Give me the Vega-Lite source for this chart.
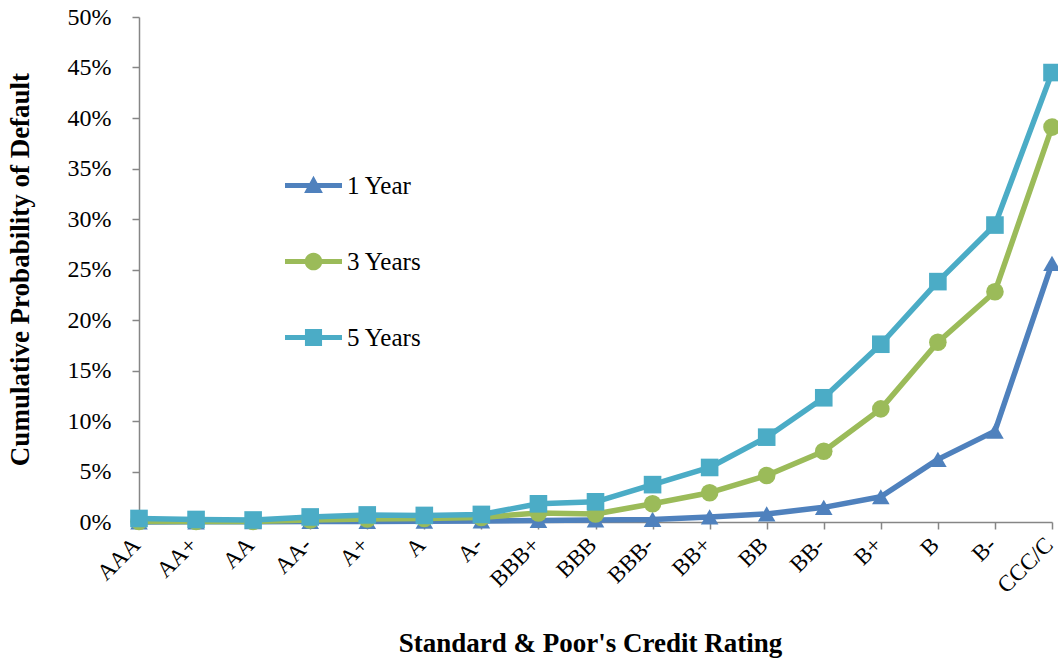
{
  "$schema": "https://vega.github.io/schema/vega-lite/v6.json",
  "autosize": {"type": "none"},
  "width": 913,
  "height": 505,
  "padding": {"left": 139, "top": 17, "right": 6, "bottom": 136},
  "background": "white",
  "config": {
    "view": {"stroke": null},
    "font": "Liberation Serif",
    "axis": {
      "grid": false,
      "domainColor": "#868686",
      "domainWidth": 1.5,
      "tickColor": "#868686",
      "tickWidth": 1.5,
      "tickSize": 7,
      "labelColor": "black",
      "labelFont": "Liberation Serif",
      "titleColor": "black",
      "titleFont": "Liberation Serif",
      "titleFontWeight": "bold",
      "titleFontSize": 27
    },
    "legend": {
      "title": null,
      "orient": "none",
      "legendX": 146,
      "legendY": 140,
      "padding": 0,
      "symbolSize": 3249,
      "symbolOpacity": 1,
      "symbolStrokeWidth": 0,
      "rowPadding": 34,
      "labelOffset": 5,
      "labelFont": "Liberation Serif",
      "labelFontSize": 25,
      "labelColor": "black",
      "labelLimit": 300
    }
  },
  "data": {
    "values": [
      {"rating": "AAA", "idx": 1, "series": "1 Year", "value": 0.0},
      {"rating": "AA+", "idx": 2, "series": "1 Year", "value": 0.0002},
      {"rating": "AA", "idx": 3, "series": "1 Year", "value": 0.0003},
      {"rating": "AA-", "idx": 4, "series": "1 Year", "value": 0.0005},
      {"rating": "A+", "idx": 5, "series": "1 Year", "value": 0.0006},
      {"rating": "A", "idx": 6, "series": "1 Year", "value": 0.0008},
      {"rating": "A-", "idx": 7, "series": "1 Year", "value": 0.001},
      {"rating": "BBB+", "idx": 8, "series": "1 Year", "value": 0.0015},
      {"rating": "BBB", "idx": 9, "series": "1 Year", "value": 0.002},
      {"rating": "BBB-", "idx": 10, "series": "1 Year", "value": 0.0025},
      {"rating": "BB+", "idx": 11, "series": "1 Year", "value": 0.005},
      {"rating": "BB", "idx": 12, "series": "1 Year", "value": 0.008},
      {"rating": "BB-", "idx": 13, "series": "1 Year", "value": 0.0145},
      {"rating": "B+", "idx": 14, "series": "1 Year", "value": 0.025},
      {"rating": "B", "idx": 15, "series": "1 Year", "value": 0.062},
      {"rating": "B-", "idx": 16, "series": "1 Year", "value": 0.09},
      {"rating": "CCC/C", "idx": 17, "series": "1 Year", "value": 0.256},
      {"rating": "AAA", "idx": 1, "series": "3 Years", "value": 0.0005},
      {"rating": "AA+", "idx": 2, "series": "3 Years", "value": 0.0005},
      {"rating": "AA", "idx": 3, "series": "3 Years", "value": 0.0005},
      {"rating": "AA-", "idx": 4, "series": "3 Years", "value": 0.002},
      {"rating": "A+", "idx": 5, "series": "3 Years", "value": 0.003},
      {"rating": "A", "idx": 6, "series": "3 Years", "value": 0.0035},
      {"rating": "A-", "idx": 7, "series": "3 Years", "value": 0.0045},
      {"rating": "BBB+", "idx": 8, "series": "3 Years", "value": 0.009},
      {"rating": "BBB", "idx": 9, "series": "3 Years", "value": 0.008},
      {"rating": "BBB-", "idx": 10, "series": "3 Years", "value": 0.018},
      {"rating": "BB+", "idx": 11, "series": "3 Years", "value": 0.029},
      {"rating": "BB", "idx": 12, "series": "3 Years", "value": 0.046},
      {"rating": "BB-", "idx": 13, "series": "3 Years", "value": 0.07},
      {"rating": "B+", "idx": 14, "series": "3 Years", "value": 0.112},
      {"rating": "B", "idx": 15, "series": "3 Years", "value": 0.178},
      {"rating": "B-", "idx": 16, "series": "3 Years", "value": 0.228},
      {"rating": "CCC/C", "idx": 17, "series": "3 Years", "value": 0.391},
      {"rating": "AAA", "idx": 1, "series": "5 Years", "value": 0.0035},
      {"rating": "AA+", "idx": 2, "series": "5 Years", "value": 0.0025},
      {"rating": "AA", "idx": 3, "series": "5 Years", "value": 0.002},
      {"rating": "AA-", "idx": 4, "series": "5 Years", "value": 0.005},
      {"rating": "A+", "idx": 5, "series": "5 Years", "value": 0.007},
      {"rating": "A", "idx": 6, "series": "5 Years", "value": 0.0065},
      {"rating": "A-", "idx": 7, "series": "5 Years", "value": 0.0075},
      {"rating": "BBB+", "idx": 8, "series": "5 Years", "value": 0.018},
      {"rating": "BBB", "idx": 9, "series": "5 Years", "value": 0.02},
      {"rating": "BBB-", "idx": 10, "series": "5 Years", "value": 0.037},
      {"rating": "BB+", "idx": 11, "series": "5 Years", "value": 0.054},
      {"rating": "BB", "idx": 12, "series": "5 Years", "value": 0.084},
      {"rating": "BB-", "idx": 13, "series": "5 Years", "value": 0.123},
      {"rating": "B+", "idx": 14, "series": "5 Years", "value": 0.176},
      {"rating": "B", "idx": 15, "series": "5 Years", "value": 0.238},
      {"rating": "B-", "idx": 16, "series": "5 Years", "value": 0.294},
      {"rating": "CCC/C", "idx": 17, "series": "5 Years", "value": 0.445}
    ]
  },
  "encoding": {
    "x": {
      "field": "rating",
      "type": "ordinal",
      "sort": ["AAA", "AA+", "AA", "AA-", "A+", "A", "A-", "BBB+", "BBB", "BBB-", "BB+", "BB", "BB-", "B+", "B", "B-", "CCC/C"],
      "scale": {"type": "point", "padding": 0},
      "axis": {
        "title": "Standard & Poor's Credit Rating",
        "labelAngle": -45,
        "labelAlign": "right",
        "labelBaseline": "middle",
        "labelFontSize": 23,
        "labelPadding": 12,
        "labelOffset": -3,
        "titleX": 451,
        "titleY": 121,
        "titleBaseline": "middle",
        "titleAlign": "center"
      }
    },
    "y": {
      "field": "value",
      "type": "quantitative",
      "scale": {"domain": [0, 0.5], "nice": false},
      "axis": {
        "title": "Cumulative Probability of Default",
        "values": [0, 0.05, 0.1, 0.15, 0.2, 0.25, 0.3, 0.35, 0.4, 0.45, 0.5],
        "format": ".0%",
        "labelFontSize": 24,
        "labelPadding": 21,
        "titleX": -119,
        "titleY": 252,
        "titleAngle": -90,
        "titleBaseline": "middle",
        "titleAlign": "center"
      }
    }
  },
  "layer": [
    {
      "mark": {"type": "line", "strokeWidth": 5.5, "strokeCap": "round", "strokeJoin": "round"},
      "encoding": {
        "order": {"field": "idx", "type": "quantitative"},
        "color": {
          "field": "series",
          "type": "nominal",
          "scale": {"domain": ["1 Year", "3 Years", "5 Years"], "range": ["#4F81BD", "#9BBB59", "#4BACC6"]},
          "legend": null
        }
      }
    },
    {
      "mark": {"type": "point", "filled": true, "opacity": 1, "size": 310},
      "encoding": {
        "color": {
          "field": "series",
          "type": "nominal",
          "scale": {"domain": ["1 Year", "3 Years", "5 Years"], "range": ["#4F81BD", "#9BBB59", "#4BACC6"]},
          "legend": null
        },
        "shape": {
          "field": "series",
          "type": "nominal",
          "scale": {"domain": ["1 Year", "3 Years", "5 Years"], "range": ["triangle-up", "circle", "square"]},
          "legend": null
        }
      }
    },
    {
      "mark": {"type": "point", "filled": true, "opacity": 0, "size": 10},
      "encoding": {
        "color": {
          "field": "series",
          "type": "nominal",
          "scale": {"domain": ["1 Year", "3 Years", "5 Years"], "range": ["#4F81BD", "#9BBB59", "#4BACC6"]},
          "legend": {}
        },
        "shape": {
          "field": "series",
          "type": "nominal",
          "scale": {
            "domain": ["1 Year", "3 Years", "5 Years"],
            "range": [
              "M-1,-0.09H1V0.09H-1Z M0,-0.34L0.33,0.26L-0.33,0.26Z",
              "M-1,-0.09H1V0.09H-1Z M0.31,0A0.31,0.31 0 1,1 -0.31,0A0.31,0.31 0 1,1 0.31,0Z",
              "M-1,-0.09H1V0.09H-1Z M-0.3,-0.3H0.3V0.3H-0.3Z"
            ]
          },
          "legend": {}
        }
      }
    }
  ],
  "resolve": {"scale": {"shape": "independent", "color": "independent"}}
}
